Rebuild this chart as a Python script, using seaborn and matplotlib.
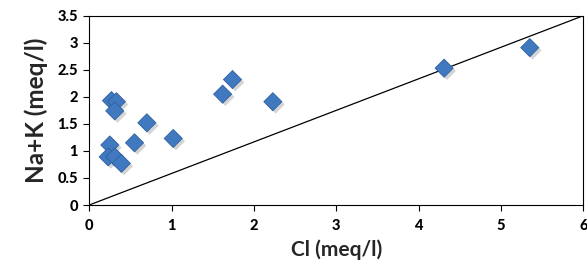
import matplotlib
matplotlib.use("Agg")
import matplotlib.pyplot as plt
import matplotlib.patheffects as pe
import seaborn as sns
import pandas as pd

# Cl vs Na+K (meq/l)
cl = [0.27, 0.33, 0.31, 1.62, 1.74, 2.23, 0.70, 0.55, 1.02, 0.25, 0.23, 0.31, 0.39, 4.31, 5.35]
nak = [1.93, 1.91, 1.74, 2.05, 2.32, 1.91, 1.52, 1.15, 1.23, 1.11, 0.89, 0.89, 0.77, 2.53, 2.91]
ref_x = [0, 6]
ref_y = [0, 3.5]
xticks = [0, 1, 2, 3, 4, 5, 6]
yticks = [0, 0.5, 1, 1.5, 2, 2.5, 3, 3.5]

df = pd.DataFrame({"Cl": cl, "NaK": nak})

sns.set_style("white")
plt.rcParams["font.family"] = ["Lato", "DejaVu Sans"]

fig = plt.figure(figsize=(5.87, 2.71), dpi=100)
ax = fig.add_axes([0.152, 0.2435, 0.8417, 0.6985])

ax.plot(ref_x, ref_y, color="black", lw=0.9, zorder=2)
sns.scatterplot(data=df, x="Cl", y="NaK", marker="D", s=85, color="#4079c0",
                edgecolor="#2f609e", linewidth=0.6, ax=ax, zorder=3)
ax.collections[-1].set_path_effects([
    pe.SimplePatchShadow(offset=(2, -2), shadow_rgbFace="#a0a0a0", alpha=0.45),
    pe.Normal()])

ax.set_xlim(0, 6)
ax.set_ylim(0, 3.5)
ax.set_xticks(xticks)
ax.set_yticks(yticks)
ax.set_xticklabels([str(t) for t in xticks])
ax.set_yticklabels([f"{t:g}" for t in yticks])
ax.tick_params(axis="both", direction="out", length=4, width=0.8, colors="black",
               labelsize=10.5, pad=4)
ax.tick_params(axis="x", bottom=True, pad=6)
ax.tick_params(axis="y", left=True)
for lab in ax.get_xticklabels() + ax.get_yticklabels():
    lab.set_fontweight(900)
for sp in ax.spines.values():
    sp.set_visible(True)
    sp.set_color("black")
    sp.set_linewidth(0.8)

ax.set_xlabel("Cl (meq/l)", fontsize=15, fontweight="bold", labelpad=5)
ax.set_ylabel("Na+K (meq/l)", fontsize=17.5, fontweight="bold", labelpad=7)

fig.savefig("out.png", dpi=100)
